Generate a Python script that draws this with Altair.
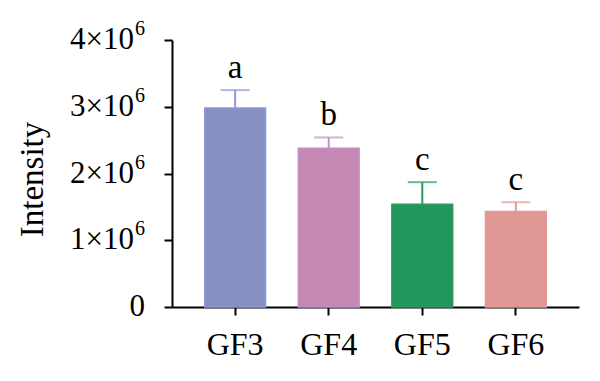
import altair as alt
import pandas as pd

groups = ["GF3", "GF4", "GF5", "GF6"]
means = [2.98e6, 2.38e6, 1.54e6, 1.43e6]
errors = [0.27e6, 0.16e6, 0.33e6, 0.14e6]
letters = ["a", "b", "c", "c"]
fill_colors = ["#8690C4", "#C388B4", "#23965B", "#DF9894"]
line_colors = ["#9098D8", "#C88CC4", "#2A9A5E", "#E69696"]

tick_values = [0, 1e6, 2e6, 3e6, 4e6]
tick_main = ["0", "1×10", "2×10", "3×10", "4×10"]
tick_sup = ["", "6", "6", "6", "6"]

df = pd.DataFrame({
    "group": groups,
    "mean": means,
    "upper": [m + e for m, e in zip(means, errors)],
    "letter": letters,
})
ticks = pd.DataFrame({"v": tick_values, "main": tick_main, "sup": tick_sup})

FONT = "Liberation Serif"

x = alt.X("group:N", sort=groups, title=None,
          scale=alt.Scale(paddingInner=0.35, paddingOuter=0.35),
          axis=alt.Axis(labelAngle=0, labelFontSize=32, labelFont=FONT, labelColor="black",
                        labelPadding=14, tickSize=8, tickWidth=2, tickColor="black",
                        domainWidth=2, domainColor="black"))

fill = alt.Fill("group:N", scale=alt.Scale(domain=groups, range=fill_colors), legend=None)
stroke = alt.Stroke("group:N", scale=alt.Scale(domain=groups, range=line_colors), legend=None)

yscale = alt.Scale(domain=[0, 4e6], nice=False)

bars = alt.Chart(df).mark_bar(strokeWidth=1.5).encode(
    x=x,
    y=alt.Y("mean:Q", title="Intensity", scale=yscale,
            axis=alt.Axis(values=tick_values, grid=False, labels=False,
                          tickSize=8, tickWidth=2, tickColor="black",
                          domainWidth=2, domainColor="black",
                          titleFont=FONT, titleFontSize=33, titleFontWeight="normal",
                          titleColor="black", titleX=-140, titleY=139,
                          titleAngle=-90, titleAlign="center", titleBaseline="middle")),
    fill=fill,
    stroke=stroke,
)

err = alt.Chart(df).mark_rule(strokeWidth=2).encode(
    x=alt.X("group:N", sort=groups),
    y="mean:Q",
    y2="upper:Q",
    stroke=stroke,
)

caps = alt.Chart(df).mark_tick(size=29, thickness=2).encode(
    x=alt.X("group:N", sort=groups),
    y="upper:Q",
    color=alt.Color("group:N", scale=alt.Scale(domain=groups, range=line_colors), legend=None),
)

text = alt.Chart(df).mark_text(font=FONT, fontSize=33, dy=-12, baseline="alphabetic", color="black").encode(
    x=alt.X("group:N", sort=groups),
    y="upper:Q",
    text="letter:N",
)

main_labels = alt.Chart(ticks).transform_calculate(
    xo="datum.sup == '' ? -27 : -38"
).mark_text(font=FONT, fontSize=31, align="right", baseline="middle", color="black").encode(
    x=alt.X("xo:Q", scale=None),
    y=alt.Y("v:Q", scale=yscale),
    text="main:N",
)

sup_labels = alt.Chart(ticks).mark_text(font=FONT, fontSize=20, align="left", baseline="middle",
                                        dy=-11, color="black").encode(
    x=alt.value(-37),
    y=alt.Y("v:Q", scale=yscale),
    text="sup:N",
)

chart = (bars + err + caps + text + main_labels + sup_labels).properties(
    width=407, height=267,
    background="white",
    autosize=alt.AutoSizeParams(type="none"),
    padding={"left": 164, "top": 32, "right": 13, "bottom": 66},
).configure_view(stroke=None, strokeWidth=0)

chart.save("out.html", embed_options={"renderer": "svg", "actions": False})
